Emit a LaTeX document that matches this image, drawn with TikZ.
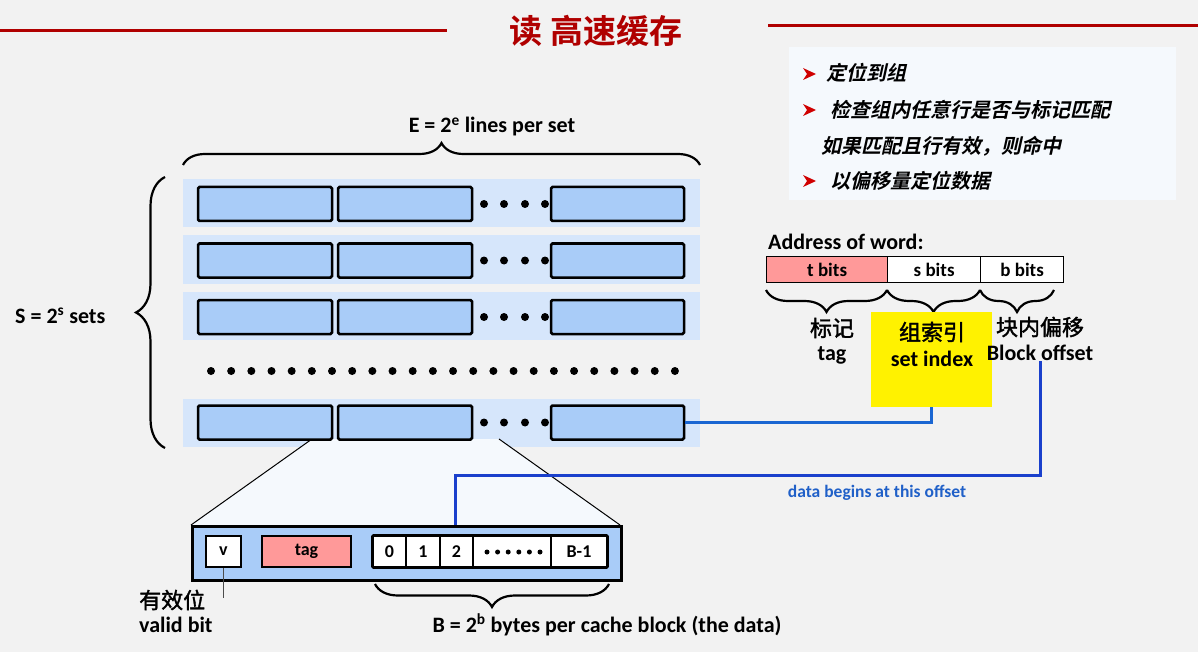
\documentclass[tikz,border=0pt]{standalone}
\usepackage{fontspec}
\setmainfont{Carlito}
\newfontfamily\cjk{Noto Sans CJK SC}[BoldFont={Noto Sans CJK SC Bold}]
\newfontfamily\cjkmed{Noto Sans CJK SC}[FakeBold=1.6]
\newfontfamily\cjkslant{Noto Sans CJK SC Bold}[FakeSlant=0.22]
\usetikzlibrary{decorations.pathreplacing}

\definecolor{bg}{HTML}{F2F2F2}
\definecolor{titlered}{HTML}{B00000}
\definecolor{rowblue}{HTML}{D6E6FB}
\definecolor{blkblue}{HTML}{A9CCF8}
\definecolor{tagpink}{HTML}{FF9999}
\definecolor{panel}{HTML}{F5F9FD}
\definecolor{offblue}{HTML}{1A40CC}
\definecolor{idxblue}{HTML}{1A66D2}
\definecolor{noteblue}{HTML}{2060C8}
\definecolor{arrowred}{HTML}{D00000}

\tikzset{
  setrow/.style={fill=rowblue, draw=none, inner sep=0pt, minimum width=517, minimum height=48},
  blk/.style={fill=blkblue, draw=black, line width=2.5pt, rounded corners=1.5pt, inner sep=0pt, minimum height=34},
  dotnode/.style={circle, fill=black, inner sep=0pt, minimum size=8},
  smalldot/.style={circle, fill=black, inner sep=0pt, minimum size=5},
  cell/.style={draw=black, line width=1.2pt, fill=white, inner sep=0pt, minimum height=31, font=\bfseries\fontsize{18}{18}\selectfont},
  addr/.style={draw=black, line width=1.2pt, fill=white, inner sep=0pt, minimum height=26, font=\bfseries\fontsize{19}{19}\selectfont},
  bracestyle/.style={draw=black, line width=2.2pt, decorate, decoration={brace, amplitude=#1}},
  lbl/.style={font=\bfseries\fontsize{22}{22}\selectfont, inner sep=0pt},
  cjklbl/.style={font=\cjkmed\fontsize{22}{22}\selectfont, inner sep=0pt},
  bullettext/.style={font=\cjkslant\fontsize{20}{20}\selectfont, anchor=west, inner sep=0pt},
  bulletmark/.style={fill=arrowred},
}

\begin{document}
\begin{tikzpicture}[x=1pt, y=-1pt]
  \useasboundingbox (0,0) rectangle (1198,652);
  \fill[bg] (0,0) rectangle (1198,652);

  % title with rules on both sides
  \node[text=titlered, font=\cjk\bfseries\fontsize{33}{33}\selectfont, inner sep=0pt] (title) at (596,31) {读 高速缓存};
  \coordinate (tl0) at (0,31);
  \coordinate (tl1) at (447,31);
  \coordinate (tr0) at (768,26);
  \coordinate (tr1) at (1198,26);
  \draw[titlered, line width=3pt] (tl0) -- (tl1);
  \draw[titlered, line width=3pt] (tr0) -- (tr1);

  % summary panel
  \node[fill=panel, inner sep=0pt, minimum width=387, minimum height=153, anchor=north west] (panel) at (789,47) {};
  \foreach \yy in {74,110,181} {
    \fill[bulletmark] (803,\yy-6) -- (816,\yy) -- (803,\yy+6) -- (807,\yy) -- cycle;
  }
  \node[bullettext] (p1) at (826,73) {定位到组};
  \node[bullettext] (p2) at (830,110) {检查组内任意行是否与标记匹配};
  \node[bullettext] (p3) at (821,146) {如果匹配且行有效，则命中};
  \node[bullettext] (p4) at (830,181) {以偏移量定位数据};

  % sets of cache lines
  \node[lbl] (elabel) at (492,127) {E = 2\textsuperscript{e} lines per set};
  \coordinate (eb0) at (183,165);
  \coordinate (eb1) at (700,165);
  \draw[bracestyle=22] (eb0) -- (eb1);

  \node[lbl, anchor=west] (slabel) at (15,316) {S = 2\textsuperscript{s} sets};
  \coordinate (sb0) at (165,448);
  \coordinate (sb1) at (165,177);
  \draw[bracestyle=29] (sb0) -- (sb1);

  \foreach \i/\yc in {1/203,2/259.5,3/316,4/422.5} {
    \node[setrow] (row\i) at (441.5,\yc) {};
  }

  % zoom wedge from the last set to one cache line
  \coordinate (w0) at (312,439);
  \coordinate (w1) at (499,439);
  \coordinate (w2) at (620,525);
  \coordinate (w3) at (191,525);
  \fill[panel] (w0) -- (w1) -- (w2) -- (w3) -- cycle;
  \draw[line width=1pt] (w0) -- (w3);
  \draw[line width=1pt] (w1) -- (w2);

  \foreach \i/\yc in {1/204,2/260.5,3/317,4/422.5} {
    \node[blk, minimum width=134] (b\i a) at (265,\yc) {};
    \node[blk, minimum width=134] (b\i b) at (405,\yc) {};
    \node[blk, minimum width=133] (b\i c) at (617.5,\yc) {};
    \foreach \dx [count=\k] in {484,504,525,545} {
      \node[dotnode] (d\i\k) at (\dx,\yc) {};
    }
  }
  \foreach \k in {0,...,23} {
    \node[dotnode] (md\k) at ({211+\k*20.17},371) {};
  }

  % one cache line
  \node[blk, rounded corners=0pt, line width=3pt, minimum width=429, minimum height=54, anchor=north west] (cl) at (191,525) {};
  \node[cell, line width=2.5pt, minimum width=35] (vbit) at (223.5,551.5) {v};
  \node[cell, line width=2.5pt, minimum width=89, fill=tagpink] (tagcell) at (306.5,551.5) {tag};
  \node[cell, minimum width=33] (c0) at (389.5,551.5) {0};
  \node[cell, minimum width=34] (c1) at (423,551.5) {1};
  \node[cell, minimum width=33] (c2) at (456.5,551.5) {2};
  \node[cell, minimum width=78] (cdots) at (512,551.5) {};
  \foreach \k in {0,...,5} {
    \node[smalldot] (cd\k) at ({487+\k*10.6},552) {};
  }
  \node[cell, minimum width=56] (cb) at (579,551.5) {B-1};
  \draw[line width=2.5pt, rounded corners=1pt] (c0.north west) rectangle (cb.south east);

  \coordinate (vend) at (223.5,598);
  \draw[black!70, line width=1pt] (vbit.south) -- (vend);
  \node[cjklbl, anchor=west] (yxw) at (139,600) {有效位};
  \node[lbl, anchor=west] (vb) at (139,625) {valid bit};

  \coordinate (bb0) at (609,584);
  \coordinate (bb1) at (375,584);
  \draw[bracestyle=23] (bb0) -- (bb1);
  \node[lbl] (blabel) at (607,625) {B = 2\textsuperscript{b} bytes per cache block (the data)};

  % address fields
  \node[lbl, anchor=west] (aow) at (768,242) {Address of word:};
  \node[addr, fill=tagpink, minimum width=121, anchor=north west] (tb) at (766,256) {t bits};
  \node[addr, minimum width=93, anchor=north west] (sbits) at (887,256) {s bits};
  \node[addr, minimum width=83, anchor=north west] (bbits) at (980,256) {b bits};

  \coordinate (ab0) at (887,290);
  \coordinate (ab1) at (766,290);
  \draw[bracestyle=22] (ab0) -- (ab1);
  \coordinate (ab2) at (980,290);
  \draw[bracestyle=22] (ab2) -- (ab0);
  \coordinate (ab3) at (1054,290);
  \draw[bracestyle=22] (ab3) -- (ab2);

  \node[fill=yellow, inner sep=0pt, minimum width=121, minimum height=95, anchor=north west] (ysel) at (871,312) {};
  \node[cjklbl] (bj) at (832,328) {标记};
  \node[lbl] (tagl) at (832,355) {tag};
  \node[cjklbl] (zsy) at (932,332) {组索引};
  \node[lbl] (sil) at (932,359) {set index};
  \node[cjklbl] (knpy) at (1040,327) {块内偏移};
  \node[lbl] (bol) at (1040,353) {Block offset};

  % index and offset connections
  \coordinate (offtop) at (1040,361);
  \coordinate (offturn) at (455,475);
  \draw[offblue, line width=3pt] (offtop) |- (offturn) -- (offturn |- cl.north);
  \draw[idxblue, line width=2.5pt] (b4c.east) -| (ysel.south);
  \node[text=noteblue, font=\bfseries\fontsize{17.5}{17.5}\selectfont, inner sep=0pt] (note) at (877,493) {data begins at this offset};
\end{tikzpicture}
\end{document}
